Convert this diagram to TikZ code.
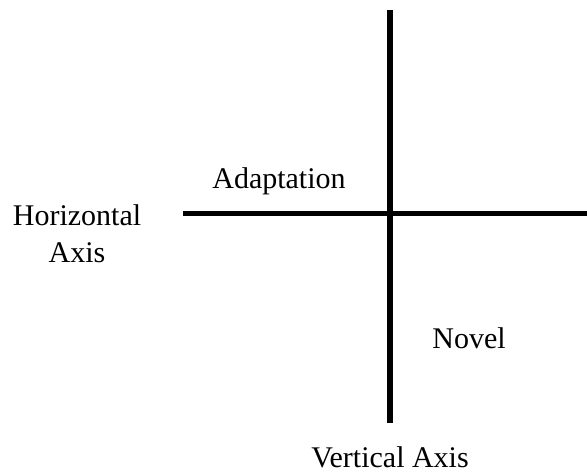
\documentclass[tikz,border=0pt]{standalone}
\usepackage{fontspec}
\setmainfont{Liberation Serif}
\usetikzlibrary{calc,positioning}

\begin{document}
\begin{tikzpicture}[x=1pt,y=-1pt,
    lbl/.style={anchor=base,inner sep=0pt,font=\fontsize{30}{37}\selectfont}]
                \useasboundingbox (0,0) rectangle (587,472);
                \coordinate (vtop) at (390,10);
                \coordinate (vbot) at (390,423);
                \coordinate (hleft) at (183,213);
                \coordinate (hright) at (587,213);
                \draw[line width=6pt](vtop)--(vbot);
                \draw[line width=5pt](hleft)--(hright);
                \node[lbl] at (279,188)(adapt){Adaptation};
                \node[lbl] at (469,348)(novel){Novel};
                \node[lbl,align=center] at (77,262)(horiz){Horizontal\\Axis};
                \node[lbl] at (390,467)(vert){Vertical Axis};
            \end{tikzpicture}
\end{document}
